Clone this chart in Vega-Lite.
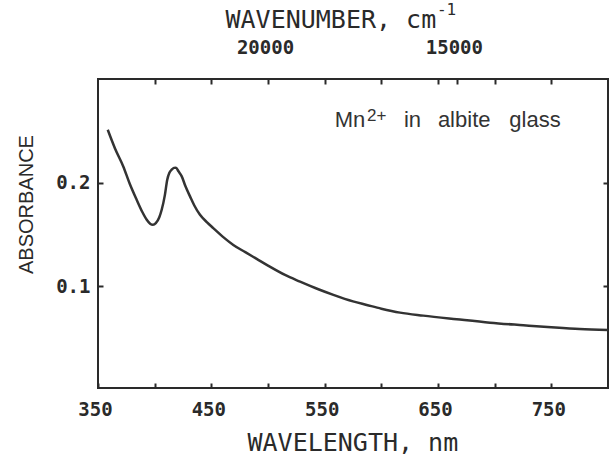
{
  "$schema": "https://vega.github.io/schema/vega-lite/v6.json",
  "width": 510,
  "height": 309,
  "autosize": "none",
  "padding": {"left": 98, "top": 79, "right": 1, "bottom": 71},
  "background": "white",
  "config": {
    "view": {"stroke": "#2a2a2a", "strokeWidth": 2},
    "axis": {
      "grid": false,
      "domain": false,
      "tickColor": "#2a2a2a",
      "tickWidth": 2,
      "tickSize": -5,
      "labelFont": "DejaVu Sans Mono",
      "labelFontWeight": "bold",
      "labelFontSize": 19,
      "labelColor": "#2a2a2a",
      "titleColor": "#2a2a2a",
      "labelOverlap": false,
      "labelFlush": false
    }
  },
  "layer": [
    {
      "data": {
        "values": [
          {"nm": 358.6, "a": 0.251},
          {"nm": 365, "a": 0.233},
          {"nm": 372.3, "a": 0.2157},
          {"nm": 378, "a": 0.199},
          {"nm": 384.1, "a": 0.1836},
          {"nm": 389, "a": 0.172},
          {"nm": 393, "a": 0.1643},
          {"nm": 396, "a": 0.1605},
          {"nm": 398.5, "a": 0.1594},
          {"nm": 401, "a": 0.161},
          {"nm": 404, "a": 0.1665},
          {"nm": 406.2, "a": 0.1739},
          {"nm": 409, "a": 0.188},
          {"nm": 411.1, "a": 0.2029},
          {"nm": 413, "a": 0.2095},
          {"nm": 415, "a": 0.2126},
          {"nm": 417, "a": 0.2143},
          {"nm": 418.8, "a": 0.2145},
          {"nm": 421, "a": 0.211},
          {"nm": 423.9, "a": 0.2061},
          {"nm": 427, "a": 0.197},
          {"nm": 431.2, "a": 0.1868},
          {"nm": 435, "a": 0.178},
          {"nm": 440, "a": 0.169},
          {"nm": 446, "a": 0.162},
          {"nm": 451.7, "a": 0.1562},
          {"nm": 460, "a": 0.148},
          {"nm": 469.4, "a": 0.14},
          {"nm": 480, "a": 0.133},
          {"nm": 490, "a": 0.1265},
          {"nm": 500, "a": 0.12},
          {"nm": 515, "a": 0.111},
          {"nm": 528.3, "a": 0.1046},
          {"nm": 545, "a": 0.097},
          {"nm": 557.7, "a": 0.0918},
          {"nm": 575, "a": 0.0855},
          {"nm": 587.1, "a": 0.0821},
          {"nm": 600, "a": 0.0785},
          {"nm": 616.5, "a": 0.0747},
          {"nm": 637, "a": 0.0718},
          {"nm": 666.5, "a": 0.0683},
          {"nm": 695.9, "a": 0.065},
          {"nm": 725.3, "a": 0.0625},
          {"nm": 750, "a": 0.0605},
          {"nm": 775, "a": 0.0588},
          {"nm": 800, "a": 0.058}
        ]
      },
      "mark": {"type": "line", "color": "#333333", "strokeWidth": 2.5, "interpolate": "monotone", "clip": true},
      "encoding": {
        "x": {
          "field": "nm", "type": "quantitative",
          "scale": {"domain": [350, 800], "nice": false, "zero": false},
          "axis": {
            "orient": "bottom",
            "values": [350, 400, 450, 500, 550, 600, 650, 700, 750],
            "format": "d",
            "labelExpr": "datum.value % 100 == 50 ? datum.label : ''",
            "labelPadding": 17,
            "labelOffset": -3,
            "title": "WAVELENGTH, nm",
            "titleFont": "DejaVu Sans Mono",
            "titleFontSize": 25,
            "titleFontWeight": "normal",
            "titleBaseline": "alphabetic",
            "titleAlign": "left",
            "titleX": 149,
            "titleY": 62
          }
        },
        "y": {
          "field": "a", "type": "quantitative",
          "scale": {"domain": [0.002, 0.3], "nice": false, "zero": false},
          "axis": {
            "orient": "left",
            "values": [0.1, 0.2],
            "format": ".1f",
            "labelPadding": 13,
            "title": "ABSORBANCE",
            "titleFont": "Liberation Sans",
            "titleFontSize": 20,
            "titleFontWeight": "normal",
            "titleColor": "#2a2a2a",
            "titleBaseline": "alphabetic",
            "titleX": -66,
            "titleY": 125
          }
        }
      }
    },
    {
      "data": {
        "values": [
          {"t": "Mn", "nm": 572.4, "a": 0.254},
          {"t": "in", "nm": 627.5, "a": 0.254},
          {"t": "albite", "nm": 673.1, "a": 0.254},
          {"t": "glass", "nm": 735.6, "a": 0.254}
        ]
      },
      "mark": {"type": "text", "font": "Liberation Sans", "fontSize": 22, "align": "center", "baseline": "alphabetic", "color": "#333333"},
      "encoding": {
        "text": {"field": "t"},
        "x": {
          "field": "nm", "type": "quantitative",
          "axis": {
            "orient": "top",
            "values": [400, 450, 500, 550, 600, 650, 666.667, 700, 750],
            "labelExpr": "datum.value == 500 ? '20000' : (datum.value > 666 && datum.value < 667 ? '15000' : '')",
            "labelPadding": 27,
            "labelOffset": -3,
            "title": "WAVENUMBER, cm",
            "titleFont": "DejaVu Sans Mono",
            "titleFontSize": 25,
            "titleFontWeight": "normal",
            "titleBaseline": "alphabetic",
            "titleAlign": "left",
            "titleX": 127,
            "titleY": -52
          }
        },
        "y": {
          "field": "a", "type": "quantitative",
          "axis": {"orient": "right", "values": [0.1, 0.2], "labels": false, "title": null}
        }
      }
    },
    {
      "data": {"values": [{"t": "2+", "nm": 587.4, "a": 0.2598}]},
      "mark": {"type": "text", "font": "Liberation Sans", "fontSize": 17, "align": "left", "baseline": "alphabetic", "color": "#333333"},
      "encoding": {
        "text": {"field": "t"},
        "x": {"field": "nm", "type": "quantitative", "axis": null},
        "y": {"field": "a", "type": "quantitative", "axis": null}
      }
    },
    {
      "data": {"values": [{"t": "-1", "nm": 649.1, "a": 0.362}]},
      "mark": {"type": "text", "font": "DejaVu Sans Mono", "fontSize": 16, "align": "left", "baseline": "alphabetic", "color": "#2a2a2a", "clip": false},
      "encoding": {
        "text": {"field": "t"},
        "x": {"field": "nm", "type": "quantitative", "axis": null},
        "y": {"field": "a", "type": "quantitative", "axis": null}
      }
    }
  ],
  "resolve": {"axis": {"x": "independent", "y": "independent"}}
}
